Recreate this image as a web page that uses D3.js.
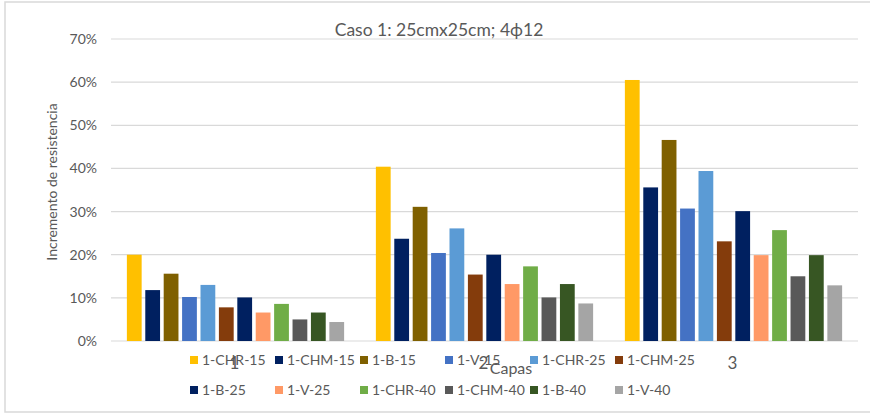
<!DOCTYPE html>
<html>
<head>
<meta charset="utf-8">
<script src="https://cdn.jsdelivr.net/npm/d3@7"></script>
<style>
  body { margin: 0; background: #fff; }
  text { font-family: Lato, "Open Sans", sans-serif; }
</style>
</head>
<body>
<script>
// chart data
var capas = ["1", "2", "3"];
var series = ["1-CHR-15", "1-CHM-15", "1-B-15", "1-V-15", "1-CHR-25", "1-CHM-25",
              "1-B-25", "1-V-25", "1-CHR-40", "1-CHM-40", "1-B-40", "1-V-40"];
var colors = ["#FFC000", "#002060", "#7F6000", "#4472C4", "#5B9BD5", "#843C0C",
              "#002060", "#FF9966", "#70AD47", "#595959", "#375623", "#A5A5A5"];
// one array per capa, in series order
var capa1 = [0.200, 0.118, 0.156, 0.102, 0.130, 0.078, 0.101, 0.066, 0.086, 0.050, 0.066, 0.044];
var capa2 = [0.404, 0.237, 0.311, 0.204, 0.261, 0.154, 0.200, 0.132, 0.173, 0.101, 0.132, 0.087];
var capa3 = [0.605, 0.356, 0.466, 0.307, 0.394, 0.231, 0.301, 0.199, 0.257, 0.150, 0.199, 0.129];
var yTicks = [0, 0.1, 0.2, 0.3, 0.4, 0.5, 0.6, 0.7];

var values = [capa1, capa2, capa3];

var W = 870, H = 413;
var margin = {top: 39, right: 12, bottom: 72, left: 111};
var width = W - margin.left - margin.right,
    height = H - margin.top - margin.bottom;

var svg = d3.select("body").append("svg")
    .attr("width", W)
    .attr("height", H);

// chart frame
svg.append("rect")
    .attr("x", 5).attr("y", 2)
    .attr("width", W + 10).attr("height", H - 3)
    .attr("fill", "#fff")
    .attr("stroke", "#d9d9d9")
    .attr("stroke-width", 1.5);

var g = svg.append("g")
    .attr("transform", "translate(" + margin.left + "," + margin.top + ")");

var x0 = d3.scaleBand().domain(capas).range([0, width])
    .paddingInner(0.1275).paddingOuter(0.06375);
var x1 = d3.scaleBand().domain(series).range([0, x0.bandwidth()])
    .paddingInner(0.197).paddingOuter(0);
var y = d3.scaleLinear().domain([0, 0.7]).range([height, 0]);

// gridlines
g.selectAll(".grid")
    .data(yTicks)
  .enter().append("line")
    .attr("x1", 0).attr("x2", width)
    .attr("y1", function(d) { return y(d); })
    .attr("y2", function(d) { return y(d); })
    .attr("stroke", "#d9d9d9")
    .attr("stroke-width", 1.2);

// y axis labels
var yAxis = g.append("g")
    .call(d3.axisLeft(y).tickValues(yTicks).tickFormat(d3.format(".0%")).tickSize(0).tickPadding(14));
yAxis.select(".domain").remove();
yAxis.selectAll("text")
    .attr("fill", "#595959")
    .style("font-size", "14px")
    .style("font-family", "Lato, sans-serif");

// bars
capas.forEach(function(c, ci) {
  g.append("g")
      .attr("transform", "translate(" + x0(c) + ",0)")
    .selectAll("rect")
      .data(values[ci])
    .enter().append("rect")
      .attr("x", function(d, i) { return x1(series[i]); })
      .attr("y", function(d) { return y(d); })
      .attr("width", x1.bandwidth())
      .attr("height", function(d) { return height - y(d); })
      .attr("fill", function(d, i) { return colors[i]; });
});

// category labels (sit under the bars, overlapping the legend)
g.selectAll(".cat")
    .data(capas)
  .enter().append("text")
    .attr("x", function(d) { return x0(d) + x0.bandwidth() / 2 - 1; })
    .attr("y", height + 28)
    .attr("text-anchor", "middle")
    .attr("fill", "#595959")
    .style("font-size", "17px")
    .text(function(d) { return d; });

// axis titles
svg.append("text")
    .attr("x", 511).attr("y", 374)
    .attr("text-anchor", "middle")
    .attr("fill", "#595959")
    .style("font-size", "16px")
    .text("Capas");

svg.append("text")
    .attr("transform", "translate(57,182) rotate(-90)")
    .attr("text-anchor", "middle")
    .attr("fill", "#595959")
    .style("font-size", "14px")
    .text("Incremento de resistencia");

// title
svg.append("text")
    .attr("x", 439).attr("y", 36)
    .attr("text-anchor", "middle")
    .attr("fill", "#595959")
    .style("font-size", "17.5px")
    .text("Caso 1: 25cmx25cm; 4ϕ12");

// legend
var legend = svg.append("g");
var item = legend.selectAll(".item")
    .data(series)
  .enter().append("g")
    .attr("transform", function(d, i) {
      return "translate(" + (190 + (i % 6) * 85) + "," + (i < 6 ? 360 : 390) + ")";
    });
item.append("rect")
    .attr("x", 0).attr("y", -4)
    .attr("width", 8).attr("height", 8)
    .attr("fill", function(d, i) { return colors[i]; });
item.append("text")
    .attr("x", 12).attr("y", 5)
    .attr("fill", "#595959")
    .style("font-size", "14px")
    .text(function(d) { return d; });
</script>
</body>
</html>
